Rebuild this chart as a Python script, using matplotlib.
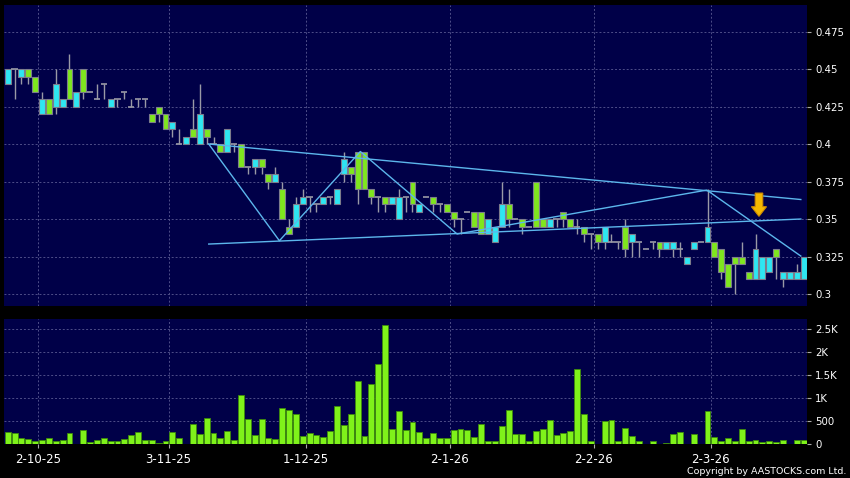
import numpy as np
import matplotlib.pyplot as plt
from matplotlib.patches import Rectangle

# daily prices (open / high / low / close)
opens = [0.44, 0.45, 0.445, 0.45, 0.445, 0.42, 0.43, 0.425, 0.425, 0.45,
         0.425, 0.45, 0.435, 0.43, 0.44, 0.425, 0.43, 0.435, 0.425, 0.43,
         0.43, 0.42, 0.425, 0.42, 0.41, 0.40, 0.40, 0.41, 0.40, 0.41,
         0.40, 0.40, 0.395, 0.40, 0.40, 0.385, 0.385, 0.39, 0.38, 0.375,
         0.37, 0.345, 0.345, 0.36, 0.365, 0.36, 0.36, 0.365, 0.36, 0.38,
         0.385, 0.395, 0.395, 0.37, 0.365, 0.365, 0.36, 0.35, 0.365, 0.375,
         0.355, 0.365, 0.365, 0.36, 0.36, 0.355, 0.35, 0.355, 0.355, 0.355,
         0.34, 0.335, 0.345, 0.36, 0.35, 0.35, 0.345, 0.375, 0.35, 0.345,
         0.35, 0.355, 0.35, 0.345, 0.345, 0.34, 0.34, 0.335, 0.335, 0.335,
         0.345, 0.335, 0.335, 0.33, 0.335, 0.335, 0.33, 0.33, 0.33, 0.32,
         0.33, 0.335, 0.335, 0.335, 0.33, 0.32, 0.325, 0.325, 0.315, 0.31,
         0.31, 0.315, 0.33, 0.31, 0.31, 0.31, 0.31]
closes = [0.45, 0.45, 0.45, 0.445, 0.435, 0.43, 0.42, 0.44, 0.43, 0.43,
          0.435, 0.435, 0.435, 0.43, 0.44, 0.43, 0.43, 0.435, 0.425, 0.43,
          0.43, 0.415, 0.42, 0.41, 0.415, 0.40, 0.405, 0.405, 0.42, 0.405,
          0.40, 0.395, 0.41, 0.40, 0.385, 0.385, 0.39, 0.385, 0.375, 0.38,
          0.35, 0.34, 0.36, 0.365, 0.365, 0.36, 0.365, 0.365, 0.37, 0.39,
          0.38, 0.37, 0.37, 0.365, 0.365, 0.36, 0.365, 0.365, 0.365, 0.36,
          0.36, 0.365, 0.36, 0.36, 0.355, 0.35, 0.35, 0.355, 0.345, 0.34,
          0.35, 0.345, 0.36, 0.35, 0.35, 0.345, 0.345, 0.345, 0.345, 0.35,
          0.35, 0.35, 0.345, 0.345, 0.34, 0.34, 0.335, 0.345, 0.335, 0.335,
          0.33, 0.34, 0.335, 0.33, 0.335, 0.33, 0.335, 0.335, 0.33, 0.325,
          0.335, 0.335, 0.345, 0.325, 0.315, 0.305, 0.32, 0.32, 0.31, 0.33,
          0.325, 0.325, 0.325, 0.315, 0.315, 0.315, 0.325]
highs = [0.45, 0.45, 0.45, 0.45, 0.445, 0.435, 0.43, 0.45, 0.43, 0.46,
         0.435, 0.45, 0.435, 0.44, 0.44, 0.43, 0.43, 0.435, 0.43, 0.43,
         0.43, 0.42, 0.425, 0.42, 0.415, 0.41, 0.405, 0.43, 0.44, 0.41,
         0.405, 0.40, 0.41, 0.40, 0.40, 0.385, 0.39, 0.39, 0.38, 0.385,
         0.375, 0.35, 0.365, 0.37, 0.365, 0.36, 0.365, 0.365, 0.37, 0.395,
         0.385, 0.395, 0.395, 0.37, 0.365, 0.365, 0.365, 0.37, 0.365, 0.375,
         0.36, 0.365, 0.365, 0.36, 0.36, 0.355, 0.35, 0.355, 0.355, 0.355,
         0.35, 0.345, 0.375, 0.37, 0.35, 0.35, 0.345, 0.375, 0.35, 0.35,
         0.35, 0.355, 0.35, 0.35, 0.345, 0.34, 0.34, 0.345, 0.34, 0.335,
         0.35, 0.34, 0.335, 0.33, 0.335, 0.335, 0.335, 0.335, 0.335, 0.325,
         0.335, 0.335, 0.37, 0.335, 0.33, 0.32, 0.325, 0.335, 0.315, 0.34,
         0.325, 0.325, 0.33, 0.315, 0.315, 0.32, 0.325]
lows = [0.44, 0.43, 0.44, 0.44, 0.435, 0.42, 0.42, 0.42, 0.425, 0.43,
        0.425, 0.43, 0.435, 0.43, 0.43, 0.425, 0.425, 0.43, 0.425, 0.425,
        0.425, 0.415, 0.415, 0.41, 0.405, 0.40, 0.40, 0.405, 0.40, 0.40,
        0.40, 0.395, 0.395, 0.395, 0.385, 0.38, 0.38, 0.38, 0.37, 0.375,
        0.35, 0.34, 0.345, 0.36, 0.355, 0.355, 0.36, 0.36, 0.36, 0.375,
        0.375, 0.36, 0.37, 0.36, 0.355, 0.355, 0.36, 0.35, 0.355, 0.355,
        0.355, 0.365, 0.355, 0.355, 0.355, 0.345, 0.34, 0.355, 0.345, 0.34,
        0.34, 0.335, 0.345, 0.345, 0.35, 0.34, 0.345, 0.345, 0.345, 0.345,
        0.345, 0.345, 0.345, 0.34, 0.335, 0.33, 0.33, 0.33, 0.335, 0.33,
        0.325, 0.325, 0.325, 0.33, 0.33, 0.325, 0.33, 0.325, 0.325, 0.32,
        0.33, 0.335, 0.335, 0.325, 0.31, 0.305, 0.30, 0.32, 0.31, 0.31,
        0.31, 0.315, 0.31, 0.305, 0.31, 0.31, 0.31]
volumes = [260, 240, 110, 90, 50, 80, 110, 65, 80, 225,
           0, 290, 35, 85, 125, 65, 60, 95, 180, 245,
           80, 80, 10, 60, 260, 125, 0, 430, 210, 560,
           235, 115, 270, 80, 1050, 540, 190, 530, 110, 100,
           770, 740, 640, 165, 220, 190, 140, 270, 820, 400,
           655, 1365, 155, 1300, 1745, 2590, 320, 720, 300, 480,
           245, 130, 235, 110, 125, 300, 310, 285, 145, 420,
           60, 60, 390, 735, 205, 210, 45, 270, 320, 510,
           190, 225, 275, 1620, 640, 50, 0, 485, 510, 50,
           335, 165, 50, 0, 65, 0, 20, 205, 245, 0,
           205, 0, 720, 145, 50, 110, 65, 310, 50, 75,
           35, 50, 35, 75, 0, 80, 80]

date_labels = ['2-10-25', '3-11-25', '1-12-25', '2-1-26', '2-2-26', '2-3-26']
date_index = [4, 23, 43, 64, 85, 102]

price_ticks = [0.3, 0.325, 0.35, 0.375, 0.4, 0.425, 0.45, 0.475]
vol_ticks = [0, 500, 1000, 1500, 2000, 2500]
vol_labels = ['0', '500', '1K', '1.5K', '2K', '2.5K']

# drawn trend lines (bar index, price)
zig_x = [29.3, 39.6, 51.4, 65.5, 101.9, 115.6]
zig_y = [0.400, 0.3355, 0.395, 0.340, 0.3693, 0.3253]
upper_x = [29.3, 115.6]
upper_y = [0.400, 0.363]
lower_x = [29.3, 115.6]
lower_y = [0.3333, 0.350]

n = len(opens)
idx = np.arange(n)

bg = '#000048'
up_col = '#2ee6f2'
down_col = '#7fe61e'
wick_col = '#9a9aa6'
grid_col = '#4e4e88'
line_col = '#5cb6ec'

fig = plt.figure(figsize=(8.5, 4.78), dpi=100, facecolor='black')
ax = fig.add_axes([4 / 850, 1 - 306 / 478, 803 / 850, 301 / 478])
axv = fig.add_axes([4 / 850, 1 - 443.5 / 478, 803 / 850, 124.5 / 478])

xt = np.array(date_index) + 0.45
for a in (ax, axv):
    a.set_facecolor(bg)
    a.set_xlim(-0.54, 116.5)
    for s in a.spines.values():
        s.set_visible(False)
    a.yaxis.tick_right()
    a.tick_params(axis='y', colors='white', labelsize=7.3, length=3, width=0.8, pad=3)
    a.tick_params(axis='y', color='#aaaaaa')
    a.set_xticks(xt)
    a.grid(True, color=grid_col, linestyle=(0, (2, 2)), linewidth=0.7)
    a.set_axisbelow(True)

# candles
ax.vlines(idx, lows, highs, color=wick_col, linewidth=1, zorder=2)
for i in range(n):
    o, c = opens[i], closes[i]
    if o == c:
        ax.hlines(o, i - 0.45, i + 0.45, color=wick_col, linewidth=1.2, zorder=3)
    else:
        col = up_col if c > o else down_col
        ax.add_patch(Rectangle((i - 0.43, min(o, c)), 0.86, abs(c - o),
                               facecolor=col, edgecolor='#7c7c8c', linewidth=0.8, zorder=3))

ax.plot(zig_x, zig_y, color=line_col, linewidth=1, zorder=4)
ax.plot(upper_x, upper_y, color=line_col, linewidth=1, zorder=4)
ax.plot(lower_x, lower_y, color=line_col, linewidth=1, zorder=4)

# yellow marker arrow
ax_x = 109.5
arrow_x = [ax_x - 0.55, ax_x + 0.55, ax_x + 0.55, ax_x + 1.1, ax_x, ax_x - 1.1, ax_x - 0.55]
arrow_y = [0.3673, 0.3673, 0.3582, 0.3582, 0.3518, 0.3582, 0.3582]
ax.fill(arrow_x, arrow_y, facecolor='#f4b800', edgecolor='#d08c00', linewidth=0.8, zorder=5)

ax.set_ylim(0.292, 0.4927)
ax.set_yticks(price_ticks)
ax.set_yticklabels(['{:g}'.format(t) for t in price_ticks])
ax.tick_params(axis='x', bottom=False, labelbottom=False)

# volume
axv.bar(idx, volumes, width=0.86, color='#7ff21a', edgecolor='#3d8a0c', linewidth=0.6, zorder=3)
axv.set_ylim(0, 2719)
axv.set_yticks(vol_ticks)
axv.set_yticklabels(vol_labels)
axv.set_xticklabels(date_labels)
axv.tick_params(axis='x', colors='white', labelsize=8.5, length=3, color='#aaaaaa', pad=4)

fig.text(846 / 850, 1 - 471.5 / 478, 'Copyright by AASTOCKS.com Ltd.', ha='right', va='center',
         color='white', fontsize=6.8)

fig.savefig('out.png', dpi=100, facecolor='black')
